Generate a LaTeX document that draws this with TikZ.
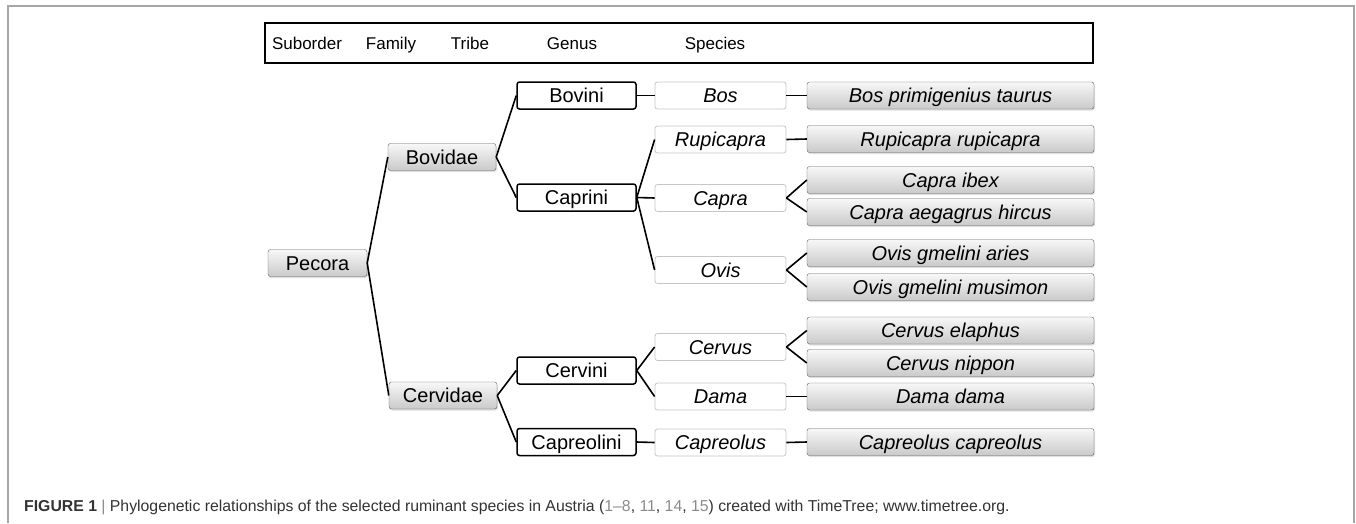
\documentclass[tikz,border=0pt]{standalone}
\usepackage{fontspec}
\setmainfont{Liberation Sans}
\usepackage{xcolor}
\usetikzlibrary{shadows}
\definecolor{capgray}{HTML}{333333}
\definecolor{refgray}{HTML}{8A8A8A}
\newcommand{\FN}{\fontsize{20}{23}\selectfont}
\newcommand{\FH}{\fontsize{17}{20}\selectfont}
\newcommand{\FC}{\fontsize{15.8}{19}\selectfont}

\begin{document}
\begin{tikzpicture}[x=1pt,y=-1pt]
\tikzstyle{box}=[inner sep=0pt,minimum height=27pt,text height=14pt,text depth=0pt,font=\FN,rounded corners=2.5pt]
\tikzstyle{grey}=[box,draw=gray!75!black,top color=gray!6,bottom color=gray!42,drop shadow={shadow xshift=1pt,shadow yshift=-1.5pt,opacity=0.25}]
\tikzstyle{tribe}=[box,draw=black,fill=white,line width=1.5pt,minimum width=119pt]
\tikzstyle{genus}=[box,draw=gray!45,fill=white,line width=0.8pt,minimum width=131pt,font=\FN\itshape]
\tikzstyle{species}=[grey,minimum width=287pt,font=\FN\itshape]
\tikzstyle{head}=[anchor=base,font=\FH]
\tikzstyle{line}=[black,line width=1.6pt]

\useasboundingbox (0,0) rectangle (1356,523);
\draw[gray!70,line width=1.5pt] (8,523) -- (8,6) -- (1354,6) -- (1354,523);
\draw[black,line width=1.6pt] (265,23) rectangle (1093,63);

\node[head] (hsub) at (307,49) {Suborder};
\node[head] (hfam) at (391,49) {Family};
\node[head] (htri) at (470,49) {Tribe};
\node[head] (hgen) at (572,49) {Genus};
\node[head] (hspe) at (715,49) {Species};

\node[grey,minimum width=99pt]  (pecora)   at (317.5,263) {Pecora};
\node[grey,minimum width=108pt] (bovidae)  at (442,157) {Bovidae};
\node[grey,minimum width=108pt] (cervidae) at (443,395.5) {Cervidae};

\node[tribe] (bovini)     at (576.5,95.5) {Bovini};
\node[tribe] (caprini)    at (576.5,197.5) {Caprini};
\node[tribe] (cervini)    at (576.5,370.5) {Cervini};
\node[tribe] (capreolini) at (576.5,442) {Capreolini};

\node[genus] (bos)       at (720.5,95.5) {Bos};
\node[genus] (rupicapra) at (720.5,139.5) {Rupicapra};
\node[genus] (capra)     at (720.5,198) {Capra};
\node[genus] (ovis)      at (720.5,270) {Ovis};
\node[genus] (cervus)    at (720.5,347) {Cervus};
\node[genus] (dama)      at (720.5,396.5) {Dama};
\node[genus] (capreolus) at (720.5,442.5) {Capreolus};

\node[species] (bostaurus)   at (950.5,95.5) {Bos primigenius taurus};
\node[species] (rupicaprar)  at (950.5,139) {Rupicapra rupicapra};
\node[species] (capraibex)   at (950.5,180) {Capra ibex};
\node[species] (caprahircus) at (950.5,212) {Capra aegagrus hircus};
\node[species] (ovisaries)   at (950.5,253) {Ovis gmelini aries};
\node[species] (ovismusimon) at (950.5,287) {Ovis gmelini musimon};
\node[species] (cervuselaph) at (950.5,330.5) {Cervus elaphus};
\node[species] (cervusnipp)  at (950.5,363) {Cervus nippon};
\node[species] (damadama)    at (950.5,396.5) {Dama dama};
\node[species] (capreolusc)  at (950.5,442) {Capreolus capreolus};

\draw[line] (pecora.east) -- (bovidae.west);
\draw[line] (pecora.east) -- (cervidae.west);
\draw[line] (bovidae.east) -- (bovini.west);
\draw[line] (bovidae.east) -- (caprini.west);
\draw[line] (cervidae.east) -- (cervini.west);
\draw[line] (cervidae.east) -- (capreolini.west);
\draw[line] (bovini.east) -- (bos.west);
\draw[line] (caprini.east) -- (rupicapra.west);
\draw[line] (caprini.east) -- (capra.west);
\draw[line] (caprini.east) -- (ovis.west);
\draw[line] (cervini.east) -- (cervus.west);
\draw[line] (cervini.east) -- (dama.west);
\draw[line] (capreolini.east) -- (capreolus.west);
\draw[line] (bos.east) -- (bostaurus.west);
\draw[line] (rupicapra.east) -- (rupicaprar.west);
\draw[line] (capra.east) -- (capraibex.west);
\draw[line] (capra.east) -- (caprahircus.west);
\draw[line] (ovis.east) -- (ovisaries.west);
\draw[line] (ovis.east) -- (ovismusimon.west);
\draw[line] (cervus.east) -- (cervuselaph.west);
\draw[line] (cervus.east) -- (cervusnipp.west);
\draw[line] (dama.east) -- (damadama.west);
\draw[line] (capreolus.east) -- (capreolusc.west);

\node[anchor=base west,font=\FC,text=capgray,inner sep=0pt] (caption) at (24,511)
  {\textbf{FIGURE 1} {\color{refgray}|} Phylogenetic relationships of the selected ruminant species in Austria ({\color{refgray}1--8}, {\color{refgray}11}, {\color{refgray}14}, {\color{refgray}15}) created with TimeTree; www.timetree.org.};
\end{tikzpicture}
\end{document}
